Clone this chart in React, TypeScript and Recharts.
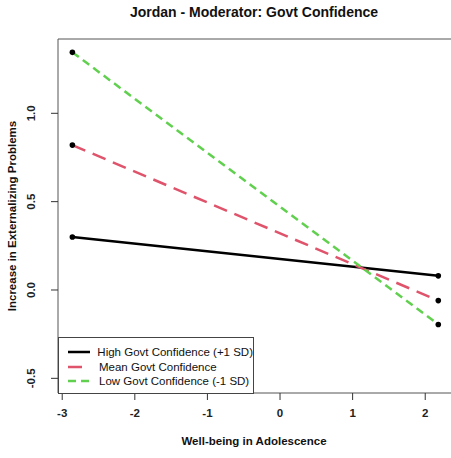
import React from "react";
import {
  LineChart,
  Line,
  XAxis,
  YAxis,
  ReferenceArea,
} from "recharts";

const wellbeing = [-2.86, 2.18];
const highConf = [0.3, 0.08];
const meanConf = [0.82, -0.06];
const lowConf = [1.345, -0.195];

const xTicks = [-3, -2, -1, 0, 1, 2];
const yTicks = [-0.5, 0, 0.5, 1.0];

const seriesInfo = [
  { key: "high", name: "High Govt Confidence (+1 SD)", color: "#000000", dash: undefined },
  { key: "mean", name: "Mean Govt Confidence", color: "#DF536B", dash: "14 8" },
  { key: "low", name: "Low Govt Confidence (-1 SD)", color: "#61D04F", dash: "8 5" },
];

const data = wellbeing.map((x, i) => ({
  x,
  high: highConf[i],
  mean: meanConf[i],
  low: lowConf[i],
}));

const FONT = '"Liberation Sans", Arial, sans-serif';

// plot box bottom edge in pixels (margin top 39 + plot height 354)
const PLOT_BOTTOM = 393;

const XTick = (props: any) => {
  const { x, payload } = props;
  return (
    <g>
      <line x1={x} y1={PLOT_BOTTOM} x2={x} y2={PLOT_BOTTOM + 7} stroke="#333" strokeWidth={1} />
      <text
        x={x}
        y={PLOT_BOTTOM + 24}
        textAnchor="middle"
        fontFamily={FONT}
        fontSize={11.5}
        fontWeight="bold"
        fill="#222"
      >
        {payload.value}
      </text>
    </g>
  );
};

const YTick = (props: any) => {
  const { y, payload } = props;
  const v = payload.value;
  const label = v === 0 ? "0.0" : v.toFixed(1);
  return (
    <g>
      <line x1={51} y1={y} x2={58} y2={y} stroke="#333" strokeWidth={1} />
      <text
        x={35}
        y={y}
        textAnchor="middle"
        transform={`rotate(-90 35 ${y})`}
        fontFamily={FONT}
        fontSize={11.5}
        fontWeight="bold"
        fill="#222"
      >
        {label}
      </text>
    </g>
  );
};

const LegendBox = () => (
  <div
    style={{
      position: "absolute",
      left: 58,
      top: 337,
      width: 196,
      height: 57,
      border: "1px solid #444",
      background: "#fff",
      boxSizing: "border-box",
      fontFamily: FONT,
      fontSize: 11.5,
      color: "#111",
      paddingTop: 7,
      whiteSpace: "nowrap",
    }}
  >
    {seriesInfo.map((s) => (
      <div key={s.key} style={{ display: "flex", alignItems: "center", height: 14.5 }}>
        <svg width={40} height={10}>
          <line
            x1={9}
            y1={5}
            x2={31}
            y2={5}
            stroke={s.color}
            strokeWidth={2.5}
            strokeDasharray={s.dash}
          />
        </svg>
        <span>{s.name}</span>
      </div>
    ))}
  </div>
);

export default function App() {
  return (
    <div
      style={{
        position: "absolute",
        left: 0,
        top: 0,
        width: 451,
        height: 458,
        overflow: "hidden",
        background: "#fff",
        fontFamily: FONT,
      }}
    >
      <div
        style={{
          position: "absolute",
          left: 0,
          width: 508,
          top: 4,
          textAlign: "center",
          fontWeight: "bold",
          fontSize: 14,
          color: "#111",
        }}
      >
        Jordan - Moderator: Govt Confidence
      </div>
      <div
        style={{
          position: "absolute",
          left: 0,
          width: 508,
          top: 435,
          textAlign: "center",
          fontWeight: "bold",
          fontSize: 11.5,
          color: "#111",
        }}
      >
        Well-being in Adolescence
      </div>
      <div
        style={{
          position: "absolute",
          left: 12,
          top: 216,
          transform: "translate(-50%, -50%) rotate(-90deg)",
          whiteSpace: "nowrap",
          fontWeight: "bold",
          fontSize: 11.5,
          color: "#111",
        }}
      >
        Increase in Externalizing Problems
      </div>
      <LineChart
        width={460}
        height={458}
        data={data}
        margin={{ top: 39, right: 0, left: 0, bottom: 0 }}
      >
        <XAxis
          type="number"
          dataKey="x"
          domain={[-3.058, 2.479]}
          ticks={xTicks}
          axisLine={false}
          tickLine={false}
          height={65}
          tick={<XTick />}
          allowDataOverflow
        />
        <YAxis
          type="number"
          domain={[-0.583, 1.4205]}
          ticks={yTicks}
          axisLine={false}
          tickLine={false}
          width={58}
          tick={<YTick />}
          allowDataOverflow
        />
        <ReferenceArea
          x1={-3.058}
          x2={2.479}
          y1={-0.583}
          y2={1.4205}
          fill="none"
          fillOpacity={0}
          stroke="#555"
          strokeWidth={1}
        />
        {seriesInfo.map((s) => (
          <Line
            key={s.key}
            type="linear"
            dataKey={s.key}
            name={s.name}
            stroke={s.color}
            strokeWidth={2.5}
            strokeDasharray={s.dash}
            dot={{ r: 2.8, fill: "#000", stroke: "#000", strokeWidth: 0, strokeDasharray: "0" }}
            activeDot={false}
            isAnimationActive={false}
          />
        ))}
      </LineChart>
      <LegendBox />
    </div>
  );
}
